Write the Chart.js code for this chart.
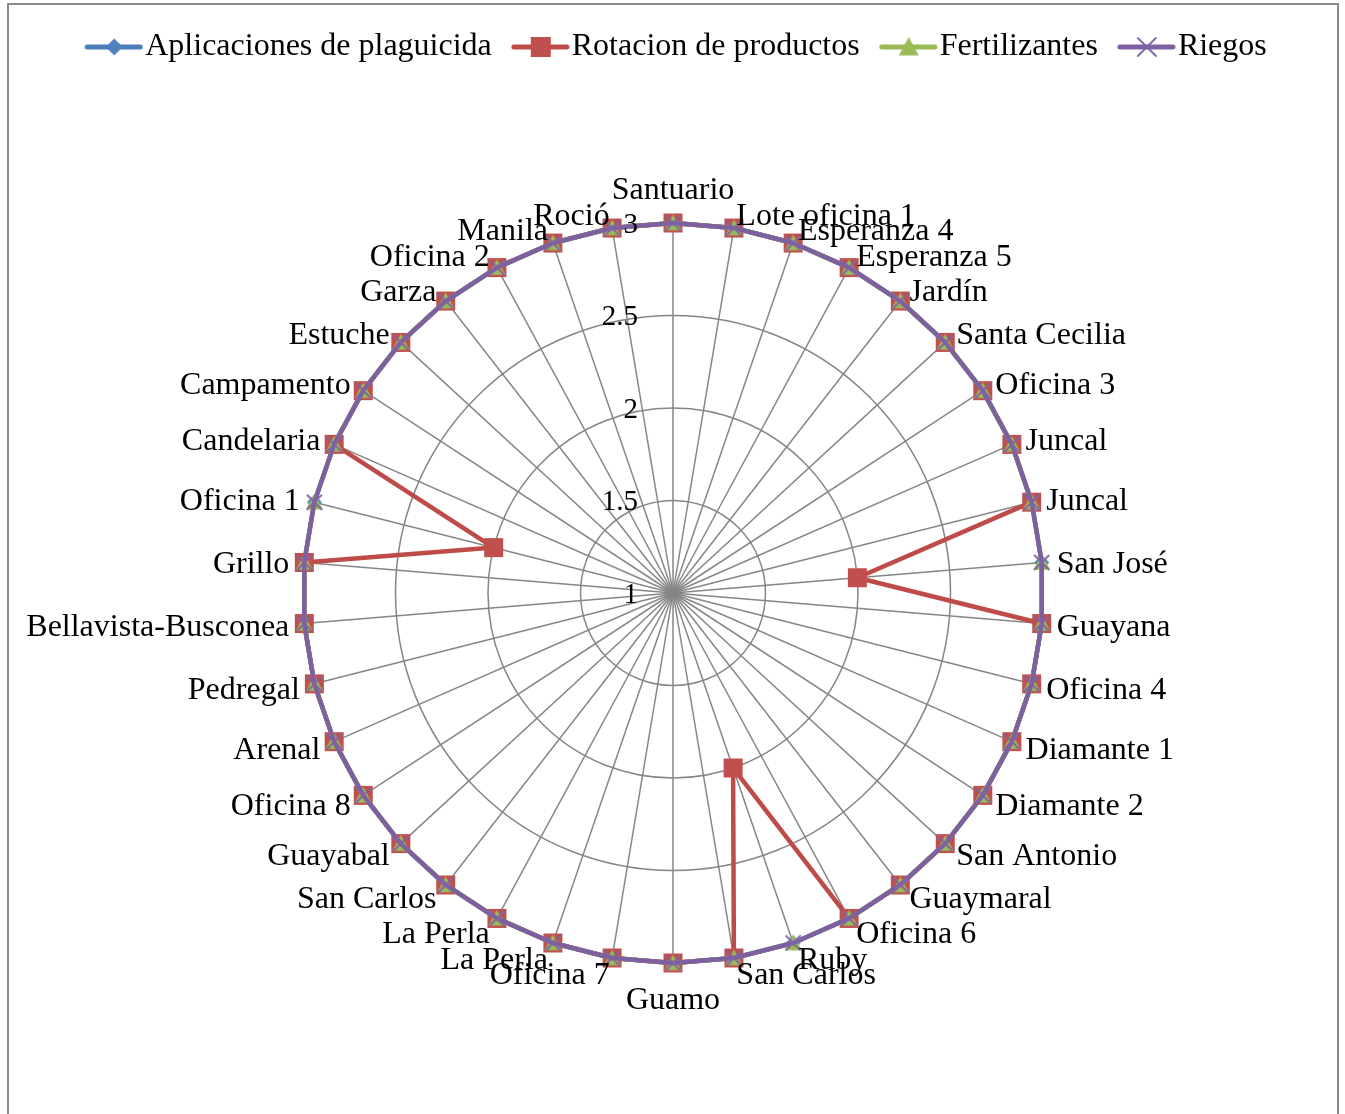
<!DOCTYPE html>
<html>
<head>
<meta charset="utf-8">
<script src="https://cdn.jsdelivr.net/npm/chart.js@4.4.1/dist/chart.umd.min.js"></script>
<style>
  html, body { margin: 0; padding: 0; background: #fff; overflow: hidden; }
  #wrap { position: relative; width: 1345px; height: 1114px; }
  #frame { position: absolute; left: 7px; top: 3px; width: 1332px; height: 1200px; border: 2px solid #8c8c8c; box-sizing: border-box; pointer-events: none; }
  canvas { position: absolute; left: 0; top: 0; }
</style>
</head>
<body>
<div id="wrap">
  <canvas id="radar" width="1345" height="1114"></canvas>
  <div id="frame"></div>
</div>
<script>
const categories = [
    "Santuario", "Lote oficina 1", "Esperanza 4", "Esperanza 5", "Jardín", "Santa Cecilia", "Oficina 3", "Juncal", "Juncal", "San José",
    "Guayana", "Oficina 4", "Diamante 1", "Diamante 2", "San Antonio", "Guaymaral", "Oficina 6", "Ruby", "San Carlos", "Guamo",
    "Oficina 7", "La Perla", "La Perla", "San Carlos", "Guayabal", "Oficina 8", "Arenal", "Pedregal", "Bellavista-Busconea", "Grillo",
    "Oficina 1", "Candelaria", "Campamento", "Estuche", "Garza", "Oficina 2", "Manila", "Roció",
];

const aplicaciones = [
    3, 3, 3, 3, 3, 3, 3, 3, 3, 3,
    3, 3, 3, 3, 3, 3, 3, 3, 3, 3,
    3, 3, 3, 3, 3, 3, 3, 3, 3, 3,
    3, 3, 3, 3, 3, 3, 3, 3,
];
const rotacion = [
    3, 3, 3, 3, 3, 3, 3, 3, 3, 2,
    3, 3, 3, 3, 3, 3, 3, 2, 3, 3,
    3, 3, 3, 3, 3, 3, 3, 3, 3, 3,
    2, 3, 3, 3, 3, 3, 3, 3,
];
const fertilizantes = [
    3, 3, 3, 3, 3, 3, 3, 3, 3, 3,
    3, 3, 3, 3, 3, 3, 3, 3, 3, 3,
    3, 3, 3, 3, 3, 3, 3, 3, 3, 3,
    3, 3, 3, 3, 3, 3, 3, 3,
];
const riegos = [
    3, 3, 3, 3, 3, 3, 3, 3, 3, 3,
    3, 3, 3, 3, 3, 3, 3, 3, 3, 3,
    3, 3, 3, 3, 3, 3, 3, 3, 3, 3,
    3, 3, 3, 3, 3, 3, 3, 3,
];

const tickValues = [1, 1.5, 2, 2.5, 3];
const tickLabels = ["1", "1.5", "2", "2.5", "3"];

const FONT = '"Liberation Serif", "Times New Roman", serif';
const gridGray = "#868686";

// draws one Excel-like marker centred at (x, y)
function drawMarker(g, marker, fill, x, y, size) {
    const h = size / 2;
    g.fillStyle = fill;
    g.strokeStyle = fill;
    g.beginPath();
    if (marker === "diamond") {
        g.moveTo(x, y - h); g.lineTo(x + h, y); g.lineTo(x, y + h); g.lineTo(x - h, y);
        g.closePath(); g.fill();
    } else if (marker === "square") {
        g.rect(x - h, y - h, size, size); g.fill();
    } else if (marker === "triangle") {
        g.moveTo(x, y - h); g.lineTo(x + h, y + h * 0.85); g.lineTo(x - h, y + h * 0.85);
        g.closePath(); g.fill();
    } else {
        g.lineWidth = 1.8;
        g.moveTo(x - h, y - h); g.lineTo(x + h, y + h);
        g.moveTo(x + h, y - h); g.lineTo(x - h, y + h);
        g.stroke();
    }
}

function markerImage(marker, fill, size) {
    const c = document.createElement("canvas");
    c.width = size + 2;
    c.height = size + 2;
    drawMarker(c.getContext("2d"), marker, fill, c.width / 2, c.height / 2, size);
    return c;
}

// legend symbol: a short line with the series marker on it
function legendIcon(lineColor, fill, marker, size) {
    const c = document.createElement("canvas");
    c.width = 84;
    c.height = 32;
    const g = c.getContext("2d");
    g.strokeStyle = lineColor;
    g.lineWidth = 5;
    g.lineCap = "round";
    g.beginPath();
    g.moveTo(28, 16);
    g.lineTo(81, 16);
    g.stroke();
    drawMarker(g, marker, fill, 55, 16, size);
    return c;
}

const legendIcons = [
    legendIcon("#4A7EBB", "#4F81BD", "diamond", 17),
    legendIcon("#BE4B48", "#C0504D", "square", 20),
    legendIcon("#98B954", "#9BBB59", "triangle", 20),
    legendIcon("#7D60A0", "#8064A2", "cross", 18),
];

// tick labels left of the vertical axis and category labels round the rim
const radarText = {
    id: "radarText",
    afterDatasetsDraw(chart) {
        const r = chart.scales.r;
        const ctx = chart.ctx;
        ctx.save();
        ctx.fillStyle = "#000";
        ctx.textBaseline = "middle";

        ctx.font = `29px ${FONT}`;
        ctx.textAlign = "right";
        tickValues.forEach((v, i) => {
            const d = r.getDistanceFromCenterForValue(v);
            ctx.fillText(tickLabels[i], r.xCenter - 35, r.yCenter - d + 2);
        });

        ctx.font = `32px ${FONT}`;
        categories.forEach((name, i) => {
            const s = Math.sin(r.getIndexAngle(i));
            let gap = 15;
            if (Math.abs(s) < 1e-6) {
                ctx.textAlign = "center";
                gap = 35;
            } else {
                ctx.textAlign = s > 0 ? "left" : "right";
            }
            const p = r.getPointPosition(i, r.drawingArea + gap);
            ctx.fillText(name, p.x, p.y + 3);
        });
        ctx.restore();
    },
};

function series(label, data, line, fill, marker, size, order) {
    return {
        label,
        data,
        order,
        borderColor: line,
        backgroundColor: fill,
        borderWidth: 4.5,
        borderJoinStyle: "round",
        fill: false,
        pointStyle: markerImage(marker, fill, size),
        pointRadius: size / 2,
        pointHoverRadius: size / 2,
        pointBackgroundColor: fill,
        pointBorderColor: fill,
    };
}

new Chart(document.getElementById("radar"), {
    type: "radar",
    data: {
        labels: categories,
        datasets: [
            series("Aplicaciones de plaguicida", aplicaciones, "#4A7EBB", "#4F81BD", "diamond", 15, 4),
            series("Rotacion de productos", rotacion, "#BE4B48", "#C0504D", "square", 19, 3),
            series("Fertilizantes", fertilizantes, "#98B954", "#9BBB59", "triangle", 17, 2),
            series("Riegos", riegos, "#7D60A0", "#8064A2", "cross", 15, 1),
        ],
    },
    options: {
        responsive: false,
        animation: false,
        layout: { padding: { top: 23, left: 0, right: 5, bottom: 0 } },
        plugins: {
            legend: {
                position: "top",
                labels: {
                    usePointStyle: true,
                    pointStyleWidth: 56,
                    padding: 8,
                    color: "#000",
                    font: { family: FONT, size: 32 },
                    sort: (a, b) => a.datasetIndex - b.datasetIndex,
                    generateLabels(chart) {
                        const items = Chart.defaults.plugins.legend.labels.generateLabels(chart);
                        items.forEach((it) => { it.pointStyle = legendIcons[it.datasetIndex]; });
                        return items;
                    },
                },
            },
            tooltip: { enabled: false },
        },
        scales: {
            r: {
                min: 1,
                max: 3,
                startAngle: 0,
                ticks: { stepSize: 0.5, display: false },
                grid: { circular: true, color: gridGray, lineWidth: 1.5 },
                angleLines: { color: gridGray, lineWidth: 1.5 },
                pointLabels: { display: false },
                afterFit(scale) {
                    scale.xCenter = 673;
                    scale.yCenter = 593;
                    scale.drawingArea = 370;
                },
            },
        },
    },
    plugins: [radarText],
});
</script>
</body>
</html>
